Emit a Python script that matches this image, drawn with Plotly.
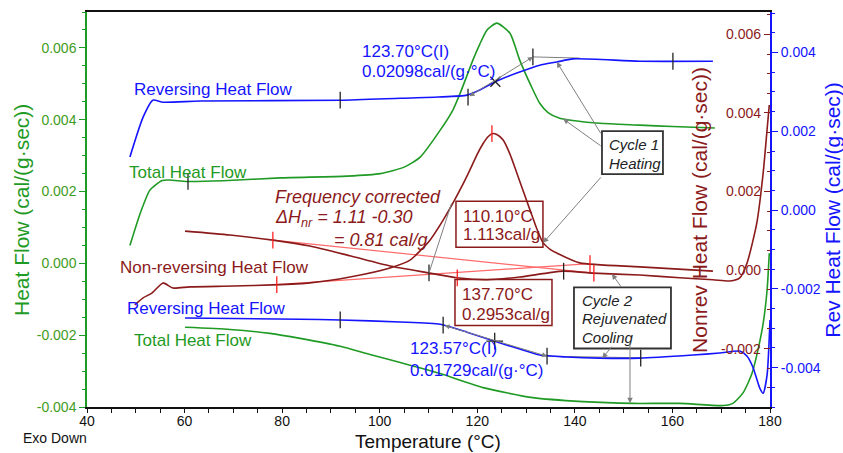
import numpy as np
import plotly.graph_objects as go

FONT = "Arial, 'Liberation Sans', sans-serif"
GREEN = "#1f9a24"
GREEN_TXT = "#3f9c22"
BLUE = "#1414ff"
MAROON = "#8b1a1a"
PINK = "#ff6a6a"
RED = "#ff2020"
GRAY = "#7f7f7f"

# ---------------- Cycle 1: heating ----------------
c1_total_T = [48.8, 50.9, 52.9, 55.4, 57.0, 60.5, 67.9, 79.6, 93.3, 100.1, 105.0, 108.3,
              112.4, 115.0, 116.5, 119.1, 120.5, 122.0, 124.0, 126.7, 128.7, 131.0, 132.8,
              134.5, 136.9, 140.0, 145.1, 153.3, 160.0, 168.7]
c1_total = [0.00050, 0.00139, 0.00204, 0.00231, 0.00232, 0.00228, 0.00230, 0.00238, 0.00243,
            0.00250, 0.00268, 0.00296, 0.00371, 0.00427, 0.00474, 0.00566, 0.00610, 0.00650,
            0.00669, 0.00641, 0.00566, 0.00495, 0.00446, 0.00420, 0.00404, 0.00397, 0.00390,
            0.00385, 0.00381, 0.00377]

c1_rev_T = [48.8, 51.5, 53.5, 55.6, 63.2, 91.9, 104.2, 112.0, 117.9, 120.5, 124.0, 128.1,
            132.8, 136.3, 139.6, 153.3, 168.3]
c1_rev = [0.00135, 0.00236, 0.00279, 0.00274, 0.00277, 0.00279, 0.00284, 0.00287, 0.00292,
          0.00305, 0.00328, 0.00348, 0.00368, 0.00376, 0.00384, 0.00378, 0.00378]

c1_nonrev_T = [49.8, 51.5, 53.3, 55.6, 57.6, 61.1, 70.0, 78.1, 85.7, 93.9, 102.1, 106.2,
               110.3, 113.0, 115.0, 116.8, 118.5, 120.0, 121.2, 122.1, 123.0, 124.0, 125.3,
               126.7, 128.1, 130.8, 132.2, 133.5, 135.0, 136.3, 141.0, 153.3, 168.3]
c1_nonrev = [-0.00089, -0.00071, -0.00059, -0.00033, -0.00046, -0.00043, -0.00041, -0.00038,
             -0.00033, -0.00018, 0.00005, 0.00025, 0.00076, 0.00127, 0.00170, 0.00212,
             0.00255, 0.00295, 0.00322, 0.00338, 0.00347, 0.00345, 0.00331, 0.00295, 0.00247,
             0.00153, 0.00105, 0.00069, 0.00052, 0.00043, 0.00018, 0.00008, -0.00003]

# ---------------- Cycle 2: rejuvenated cooling ----------------
c2_total_T = [60.1, 69.3, 77.5, 83.7, 91.9, 98.0, 104.2, 112.4, 121.2, 131.4, 141.7, 151.9,
              161.5, 170.4, 172.4, 174.5, 176.3, 177.5, 178.6, 179.4, 179.85]
c2_total = [-0.00178, -0.00184, -0.00195, -0.00209, -0.00231, -0.00254, -0.00276, -0.00307,
            -0.00346, -0.00374, -0.00385, -0.00390, -0.00390, -0.00396, -0.00390, -0.00360,
            -0.00307, -0.00243, -0.00167, -0.00075, 0.00028]

c2_rev_T = [60.1, 83.7, 91.9, 104.2, 112.4, 117.9, 123.6, 128.7, 132.8, 138.3, 145.1, 153.3,
            164.2, 169.7, 173.8, 175.3, 176.5, 177.9, 178.6, 179.4, 180.0]
c2_rev = [-0.00274, -0.00277, -0.00279, -0.00284, -0.00290, -0.00310, -0.00333, -0.00353,
          -0.00368, -0.00373, -0.00376, -0.00376, -0.00368, -0.00363, -0.00358, -0.00371,
          -0.00399, -0.00452, -0.00465, -0.00419, -0.00279]

c2_nonrev_T = [60.1, 69.3, 78.1, 85.7, 93.9, 102.1, 110.3, 115.8, 122.0, 128.7, 137.6, 143.7,
               153.3, 161.5, 168.3, 171.8, 173.8, 175.3, 177.3, 178.6, 179.4, 179.85]
c2_nonrev = [0.00099, 0.00089, 0.00076, 0.00061, 0.00036, 0.00010, -0.00008, -0.00020,
             -0.00025, -0.00018, -0.00003, -0.00008, -0.00013, -0.00020, -0.00025, -0.00028,
             -0.00020, 0.00018, 0.00120, 0.00247, 0.00357, 0.00420]

# ---------------- analysis results ----------------
c1_total_marks = [60.7]
c1_rev_marks = [91.9, 160.1]
c1_rev_step = {"onset": (118.1, 0.00287), "mid": 123.70, "end": (131.4, 0.00389), "plateau": 141.0}
c2_rev_marks = [91.9, 153.5]
c2_rev_step = {"onset": (113.0, -0.00292), "mid": 123.57, "end": (134.3, -0.00371), "plateau": 153.5}
c1_peak_limits = [78.9, 143.1]
c1_peak_top = [123.0]
c2_peak_limits = [78.1, 143.9]
c2_peak_mark = [115.9]
c2_nonrev_marks = [110.10, 137.70]

# ---------------- axis ticks ----------------
x_ticks = [40, 60, 80, 100, 120, 140, 160, 180]
hf_ticks = [-0.004, -0.002, 0.0, 0.002, 0.004, 0.006]
hf_labels = ["-0.004", "-0.002", "0.000", "0.002", "0.004", "0.006"]
nonrev_ticks = [-0.002, 0.0, 0.002, 0.004, 0.006]
nonrev_labels = ["-0.002", "0.000", "0.002", "0.004", "0.006"]
rev_ticks = [-0.004, -0.002, 0.0, 0.002, 0.004]
rev_labels = ["-0.004", "-0.002", "0.000", "0.002", "0.004"]


def on(T, xs, ys):
    return [float(v) for v in np.interp(T, xs, ys)]


fig = go.Figure()


def curve(T, v, color, yaxis, width=1.6):
    fig.add_trace(go.Scatter(x=T, y=v, mode="lines", yaxis=yaxis, hoverinfo="skip",
                             line=dict(color=color, width=width, shape="spline", smoothing=0.6)))


def seg(T, v, color, yaxis, width=1.0):
    fig.add_trace(go.Scatter(x=T, y=v, mode="lines", yaxis=yaxis, hoverinfo="skip",
                             line=dict(color=color, width=width)))


def marks(T, v, color, yaxis, symbol="line-ns", size=12):
    fig.add_trace(go.Scatter(x=T, y=v, mode="markers", yaxis=yaxis, hoverinfo="skip",
                             marker=dict(symbol=symbol, size=size, color=color,
                                         line=dict(color=color, width=1.3))))


# integration baselines under the non-reversing peaks
seg(c1_peak_limits, on(c1_peak_limits, c1_nonrev_T, c1_nonrev), PINK, "y2", 1.2)
seg(c2_peak_limits, on(c2_peak_limits, c2_nonrev_T, c2_nonrev), PINK, "y2", 1.2)

# gray step-analysis construction lines
seg([c1_rev_step["end"][0], c1_rev_step["plateau"]],
    [c1_rev_step["end"][1], c1_rev_step["end"][1] - 0.00003], GRAY, "y3", 1.0)
seg([c2_rev_step["end"][0], c2_rev_step["plateau"]],
    [c2_rev_step["end"][1], c2_rev_step["end"][1] - 0.00004], GRAY, "y3", 1.0)

# curves
curve(c1_total_T, c1_total, GREEN, "y")
curve(c2_total_T, c2_total, GREEN, "y")
curve(c1_nonrev_T, c1_nonrev, MAROON, "y2")
curve(c2_nonrev_T, c2_nonrev, MAROON, "y2")
curve(c1_rev_T, c1_rev, BLUE, "y3")
curve(c2_rev_T, c2_rev, BLUE, "y3")

# analysis markers
marks(c1_total_marks, on(c1_total_marks, c1_total_T, c1_total), "#222222", "y")
marks(c1_rev_marks, on(c1_rev_marks, c1_rev_T, c1_rev), "#222222", "y3")
marks([c1_rev_step["onset"][0], c1_rev_step["end"][0]],
      [c1_rev_step["onset"][1], c1_rev_step["end"][1]], "#222222", "y3")
marks([c1_rev_step["mid"]], on([c1_rev_step["mid"]], c1_rev_T, c1_rev), "#222222", "y3", "x-thin", 10)
marks(c2_rev_marks, on(c2_rev_marks, c2_rev_T, c2_rev), "#222222", "y3")
marks([c2_rev_step["onset"][0], c2_rev_step["end"][0]],
      [c2_rev_step["onset"][1], c2_rev_step["end"][1]], "#222222", "y3")
marks([c2_rev_step["mid"]], on([c2_rev_step["mid"]], c2_rev_T, c2_rev), "#222222", "y3", "cross-thin", 12)
marks(c1_peak_limits, on(c1_peak_limits, c1_nonrev_T, c1_nonrev), RED, "y2")
marks(c1_peak_top, on(c1_peak_top, c1_nonrev_T, c1_nonrev), RED, "y2")
marks(c2_peak_limits, on(c2_peak_limits, c2_nonrev_T, c2_nonrev), RED, "y2")
marks(c2_peak_mark, on(c2_peak_mark, c2_nonrev_T, c2_nonrev), RED, "y2")
marks(c2_nonrev_marks, on(c2_nonrev_marks, c2_nonrev_T, c2_nonrev), "#222222", "y2")

ann = []


def label(text, x, y, color, size=17, italic=False):
    if italic:
        text = "<i>" + text + "</i>"
    ann.append(dict(text=text, x=x, y=y, xref="x", yref="y", xanchor="left", yanchor="middle",
                    showarrow=False, font=dict(family=FONT, size=size, color=color)))


def pointer(x, y, yref, ax, ay, head=2):
    ann.append(dict(text="", x=x, y=y, xref="x", yref=yref, ax=ax, ay=ay, showarrow=True,
                    arrowhead=head, arrowsize=1.1, arrowwidth=1, arrowcolor=GRAY))


def tangent(step):
    (x0, y0), (x1, y1) = step["onset"], step["end"]
    ann.append(dict(text="", x=x1, y=y1, xref="x", yref="y3", ax=x0, ay=y0, axref="x",
                    ayref="y3", showarrow=True, arrowside="end+start", arrowhead=2,
                    arrowsize=1.0, arrowwidth=1, arrowcolor=GRAY))


def axis_title(text, x, y, color, angle=0, size=21):
    ann.append(dict(text=text, x=x, y=y, xref="paper", yref="paper", xanchor="center",
                    yanchor="middle", textangle=angle, showarrow=False,
                    font=dict(family=FONT, size=size, color=color)))


# curve names
label("Reversing Heat Flow", 49.2, 0.00483, BLUE)
label("Total Heat Flow", 48.2, 0.00254, GREEN)
label("Non-reversing Heat Flow", 46.4, -0.00011, MAROON)
label("Reversing Heat Flow", 47.8, -0.00126, BLUE)
label("Total Heat Flow", 49.2, -0.00215, GREEN)

# glass transition results
label("123.70°C(I)", 95.9, 0.00589, BLUE)
label("0.02098cal/(g·°C)", 95.9, 0.00533, BLUE)
label("123.57°C(I)", 105.8, -0.00237, BLUE)
label("0.01729cal/(g·°C)", 105.8, -0.00299, BLUE)

# enthalpy note
label("Frequency corrected", 78.1, 0.00184, MAROON, 18, True)
label("ΔH<sub>nr</sub> = 1.11 -0.30", 78.1, 0.00126, MAROON, 18, True)
label("= 0.81 cal/g", 90.2, 0.00064, MAROON, 18, True)

# peak integration results
label("110.10°C", 116.6, 0.00131, MAROON)
label("1.113cal/g", 116.6, 0.00081, MAROON)
label("137.70°C", 116.4, -0.00087, MAROON)
label("0.2953cal/g", 116.4, -0.00142, MAROON)

# cycle captions
label("Cycle 1", 146.6, 0.00332, "#222222", 15, True)
label("Heating", 146.6, 0.00279, "#222222", 15, True)
label("Cycle 2", 141.0, -0.00103, "#222222", 15, True)
label("Rejuvenated", 141.0, -0.00153, "#222222", 15, True)
label("Cooling", 141.0, -0.00206, "#222222", 15, True)

# pointers from the cycle captions
pointer(136.3, on([136.3], c1_rev_T, c1_rev)[0], "y3", 45, 73)
pointer(137.6, on([137.6], c1_total_T, c1_total)[0], "y", 39, 28)
pointer(133.5, on([133.5], c1_nonrev_T, c1_nonrev)[0], "y2", 59, -67)
pointer(147.6, on([147.6], c2_nonrev_T, c2_nonrev)[0], "y2", 10, 14)
pointer(145.6, on([145.6], c2_rev_T, c2_rev)[0], "y3", 11, -13)
pointer(151.3, on([151.3], c2_total_T, c2_total)[0], "y", 0, -62)
pointer(c2_nonrev_marks[0], on([c2_nonrev_marks[0]], c2_nonrev_T, c2_nonrev)[0], "y2", 23, -71, 0)
tangent(c1_rev_step)
tangent(c2_rev_step)

# non-reversing scale labels sit just inside the right-hand axis line
for v, t in zip(nonrev_ticks, nonrev_labels):
    ann.append(dict(text=t, x=1, y=v, xref="paper", yref="y2", xanchor="right",
                    yanchor="middle", xshift=-7, showarrow=False,
                    font=dict(family=FONT, size=14, color=MAROON)))

# axis titles
axis_title("Heat Flow (cal/(g·sec))", -0.095, 0.499, GREEN, -90)
axis_title("Nonrev Heat Flow (cal/(g·sec))", 0.8975, 0.499, MAROON, -90)
axis_title("Rev Heat Flow (cal/(g·sec))", 1.092, 0.499, BLUE, -90)
axis_title("Temperature (°C)", 0.4993, -0.087, "#111111", 0, 19)
ann.append(dict(text="Exo Down", x=-0.0469, y=-0.0795, xref="paper", yref="paper",
                xanchor="center", yanchor="middle", showarrow=False,
                font=dict(family=FONT, size=14, color="#111111")))

# annotation frames
shapes = [
    dict(type="rect", xref="x", yref="y", x0=115.63, x1=133.46, y0=0.000446, y1=0.001729,
         line=dict(color=MAROON, width=1.5)),
    dict(type="rect", xref="x", yref="y", x0=115.43, x1=135.31, y0=-0.001729, y1=-0.000446,
         line=dict(color=MAROON, width=1.5)),
    dict(type="rect", xref="x", yref="y", x0=145.56, x1=158.06, y0=0.002483, y1=0.003682,
         line=dict(color="#333333", width=1.8), fillcolor="white", layer="below"),
    dict(type="rect", xref="x", yref="y", x0=139.82, x1=159.70, y0=-0.002371, y1=-0.000669,
         line=dict(color="#333333", width=1.8), fillcolor="white", layer="below"),
]

tickfont = dict(family=FONT, size=14)
fig.update_layout(
    width=843, height=453,
    margin=dict(l=87, r=73, t=12, b=46),
    paper_bgcolor="white", plot_bgcolor="white",
    showlegend=False,
    template="none",
    annotations=ann,
    shapes=shapes,
    xaxis=dict(range=[40, 180], tickvals=x_ticks, ticks="outside", ticklen=4, tickwidth=1,
               tickcolor="#111111", showline=True, linecolor="#111111", linewidth=1.5,
               mirror=True, showgrid=False, zeroline=False, automargin=False,
               ticklabelstandoff=-4,
               tickfont=dict(family=FONT, size=14, color="#111111"),
               minor=dict(dtick=5, ticks="outside", ticklen=4, tickcolor="#111111")),
    yaxis=dict(range=[-0.004, 0.0070], tickvals=hf_ticks, ticktext=hf_labels,
               ticks="outside", ticklen=6, tickcolor=GREEN, showline=True, linecolor=GREEN,
               linewidth=1.5, showgrid=False, zeroline=False, automargin=False,
               tickfont=dict(tickfont, color=GREEN_TXT),
               minor=dict(dtick=0.0005, tick0=0, ticks="outside", ticklen=3, tickcolor=GREEN)),
    yaxis2=dict(range=[-0.00349, 0.00657], tickvals=nonrev_ticks, showticklabels=False,
                overlaying="y", side="right", anchor="x", ticks="inside",
                ticklen=6, tickcolor=MAROON, showline=False,
                showgrid=False, zeroline=False, automargin=False,
                minor=dict(dtick=0.0005, tick0=0, ticks="inside", ticklen=3, tickcolor=MAROON)),
    yaxis3=dict(range=[-0.0050, 0.00503], tickvals=rev_ticks, ticktext=rev_labels,
                overlaying="y", side="right", anchor="x", ticks="outside", ticklen=6,
                tickcolor=BLUE, showline=True, linecolor=BLUE, linewidth=2,
                showgrid=False, zeroline=False, automargin=False,
                tickfont=dict(tickfont, color=BLUE),
                minor=dict(dtick=0.0005, tick0=0, ticks="outside", ticklen=3, tickcolor=BLUE)),
)

fig.write_html("out.html")
